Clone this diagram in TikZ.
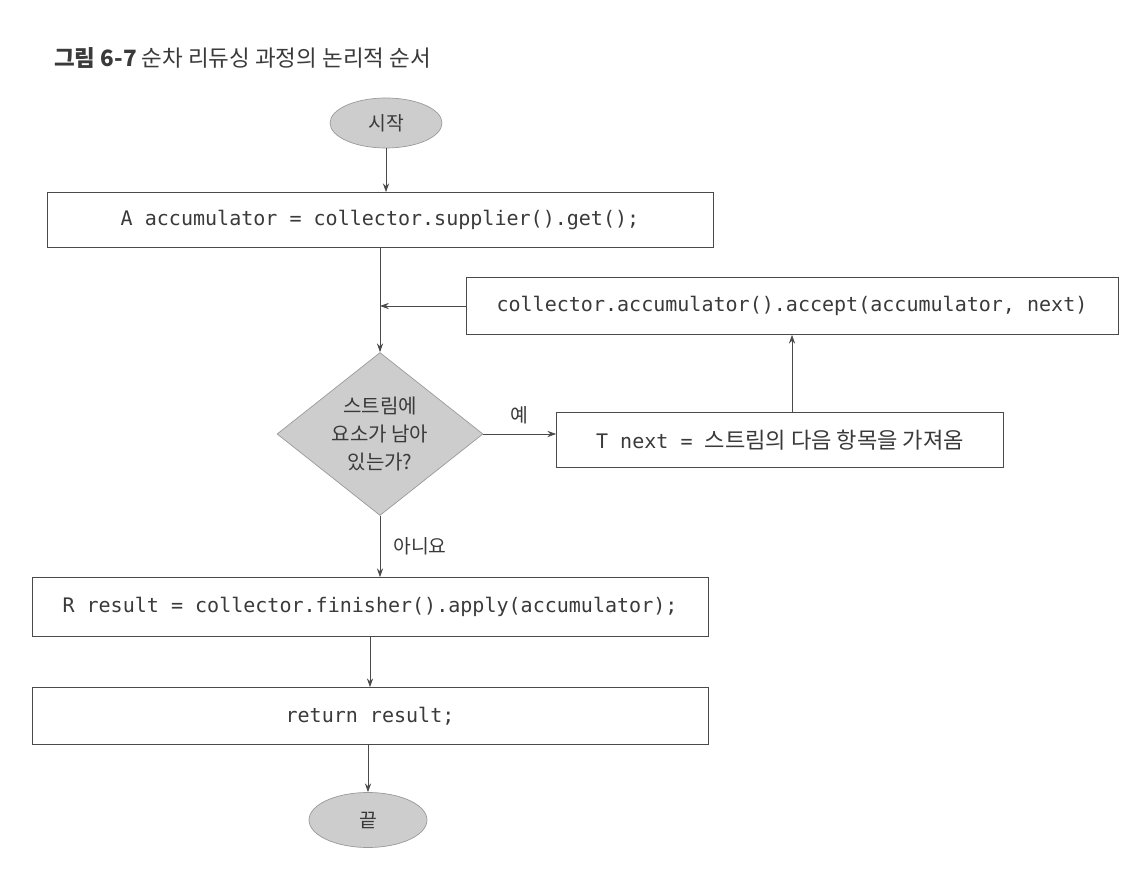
\documentclass[tikz,border=0pt]{standalone}
\usepackage{fontspec}
\setmonofont{DejaVu Sans Mono}
\newfontfamily\kr{Noto Sans CJK KR}
\usetikzlibrary{shapes.geometric}
\usetikzlibrary{arrows.meta}

\definecolor{linegray}{HTML}{4A4A4A}
\definecolor{textgray}{HTML}{3A3A3A}
\definecolor{shapegray}{HTML}{CDCDCD}
\definecolor{rimgray}{HTML}{9A9A9A}

\begin{document}
\begin{tikzpicture}[x=0.02cm, y=-0.02cm,
		box/.style={draw=linegray, fill=white, minimum height=1.1cm, font=\ttfamily\fontsize{11.4}{13}\selectfont, text=textgray},
		term/.style={ellipse, draw=rimgray, fill=shapegray, font=\kr\fontsize{11}{13}\selectfont, text=textgray},
		arr/.style={draw=linegray, -{Stealth[length=5pt,width=3.5pt]}},
		lbl/.style={font=\kr\fontsize{11}{13}\selectfont, text=textgray}]
			\useasboundingbox (0,0) rectangle (1142,874);
			\node[anchor=west, lbl, font=\kr\fontsize{12.8}{15}\selectfont] (Title) at (48,58) {\textbf{그림 6-7} 순차 리듀싱 과정의 논리적 순서};
			\node[term, minimum width=2.24cm, minimum height=1.0cm] (Start) at (386,123) {시작};
			\node[box, minimum width=13.32cm] (Init) at (380,220) {A accumulator = collector.supplier().get();};
			\node[box, minimum width=13.04cm, minimum height=1.14cm] (Acc) at (792,306) {collector.accumulator().accept(accumulator, next)};
			\node[diamond, draw=rimgray, fill=shapegray, aspect=1.26, inner sep=0pt, minimum width=4.12cm, minimum height=3.26cm, align=center, font=\kr\fontsize{11.4}{16}\selectfont, text=textgray] (Cond) at (380,434) {스트림에\\요소가 남아\\있는가?};
			\node[box, minimum width=8.94cm] (Next) at (780,440) {T next = {\kr\fontsize{12.6}{13}\selectfont 스트림의 다음 항목을 가져옴}};
			\node[box, minimum width=13.52cm, minimum height=1.18cm] (Fin) at (370,607) {R result = collector.finisher().apply(accumulator);};
			\node[box, minimum width=13.52cm, minimum height=1.14cm] (Ret) at (370,716) {return result;};
			\node[term, minimum width=2.36cm, minimum height=1.1cm] (End) at (368,820) {끝};
			% connectors
			\draw[arr] (Start) -- (Start |- Init.north);
			\draw[arr] (Init.south -| Cond.north) -- (Cond.north);
			\draw[arr] (Acc.west) -- (Acc.west -| Cond.north);
			\draw[arr] (Cond.east) -- (Next.west |- Cond.east) node[lbl, midway, above=2pt] {예};
			\draw[arr] (Acc.south |- Next.north) -- (Acc.south);
			\draw[arr] (Cond.south) -- (Cond.south |- Fin.north) node[lbl, midway, right=4pt] {아니요};
			\draw[arr] (Fin.south) -- (Ret.north);
			\draw[arr] (Ret.south -| End.north) -- (End.north);
		\end{tikzpicture}
\end{document}
